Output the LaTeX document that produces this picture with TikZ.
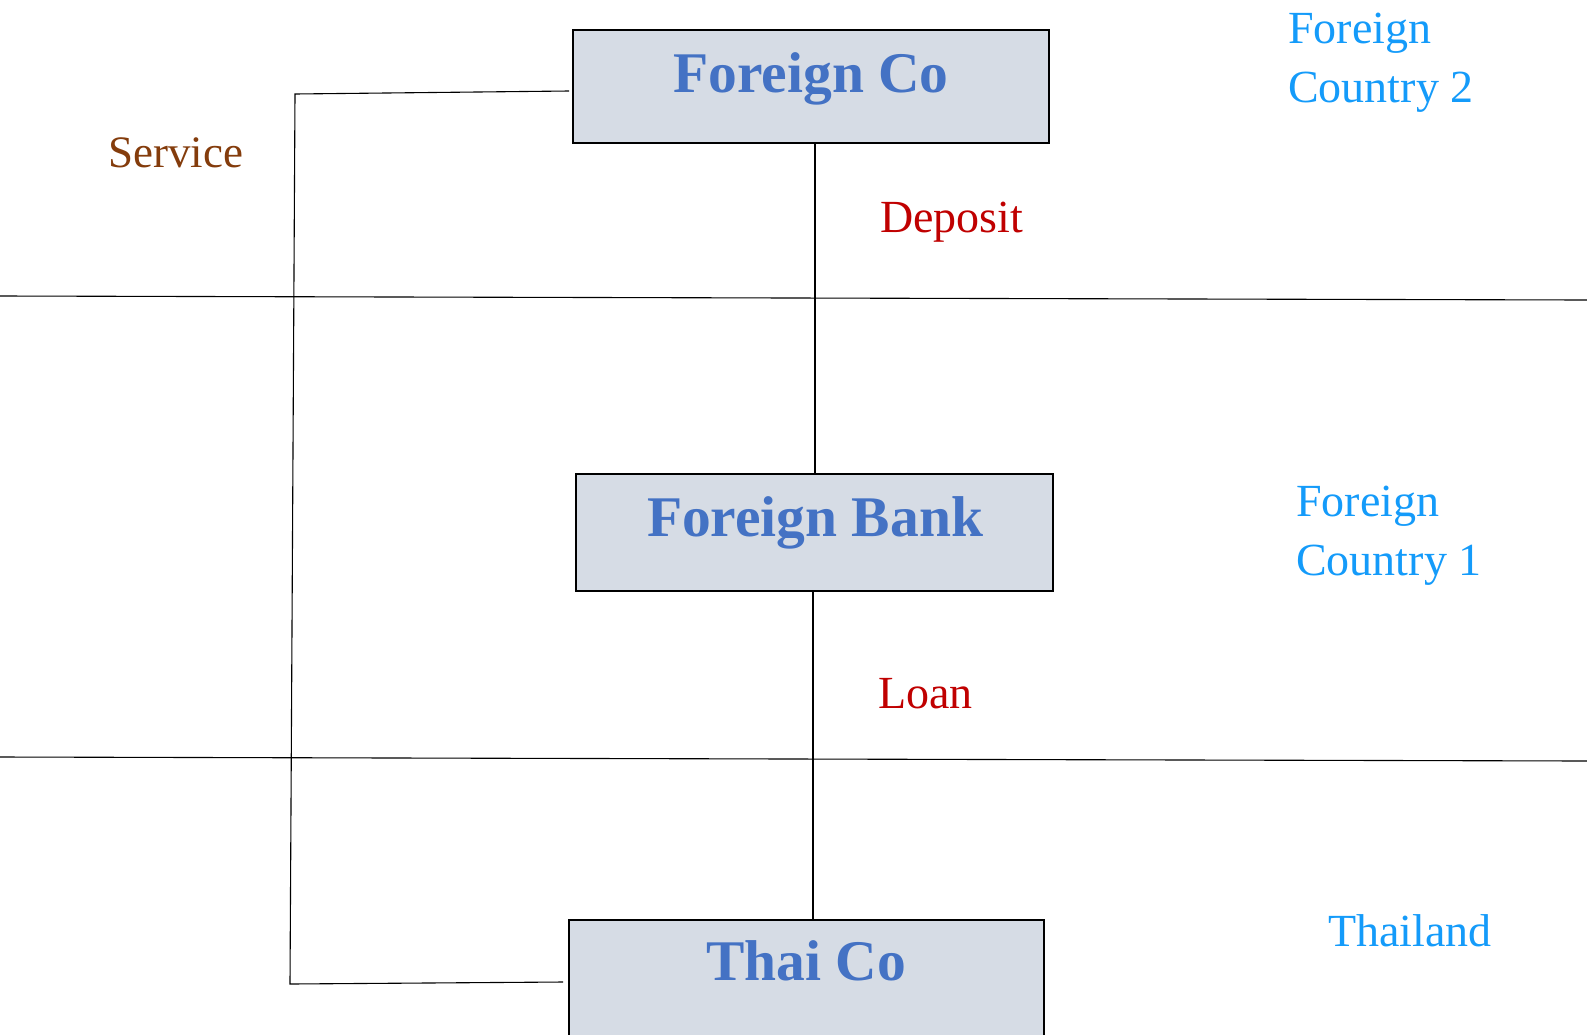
\documentclass[tikz,border=0pt]{standalone}
\usepackage{fontspec}
\setmainfont{Liberation Serif}
\definecolor{boxfill}{HTML}{D6DCE5}
\definecolor{boxtext}{HTML}{4472C4}
\definecolor{regionblue}{RGB}{20,155,250}
\definecolor{flowred}{HTML}{C00000}
\definecolor{servicebrown}{HTML}{843C0C}
\tikzset{
  entity/.style={draw=black, line width=2pt, fill=boxfill, rectangle, inner sep=0pt},
  entitylabel/.style={text=boxtext, font=\fontsize{57.5}{60}\selectfont\bfseries, anchor=base, inner sep=0pt},
  region/.style={text=regionblue, font=\fontsize{46}{59}\selectfont, anchor=base west, align=left, inner sep=0pt},
  flowlabel/.style={text=flowred, font=\fontsize{46}{59}\selectfont, anchor=base west, inner sep=0pt},
  servicelabel/.style={text=servicebrown, font=\fontsize{45}{59}\selectfont, anchor=base west, inner sep=0pt},
  link/.style={line width=2pt, black},
  border/.style={line width=1.1pt, black},
  bracket/.style={line width=1.1pt, black},
}
\begin{document}
\begin{tikzpicture}[x=1pt, y=-1pt]
  \useasboundingbox (0,0) rectangle (1587,1034);
  \fill[white] (0,0) rectangle (1587,1034);

  % country borders
  \coordinate (b1l) at (0,296);
  \coordinate (b1r) at (1587,300);
  \coordinate (b2l) at (0,757);
  \coordinate (b2r) at (1587,761);
  \draw[border] (b1l) -- (b1r);
  \draw[border] (b2l) -- (b2r);

  % entities
  \node[entity, minimum width=476pt, minimum height=113pt] (fco) at (811,86.5) {};
  \node[entity, minimum width=477pt, minimum height=117pt] (fbank) at (814.5,532.5) {};
  \node[entity, minimum width=475pt, minimum height=124pt] (thai) at (806.5,982) {};

  \node[entitylabel] (fcot) at (811,92) {Foreign Co};
  \node[entitylabel] (fbankt) at (815,536) {Foreign Bank};
  \node[entitylabel] (thait) at (806,980) {Thai Co};

  % deposit and loan connectors
  \draw[link] (fbank.north |- fco.south) -- (fbank.north);
  \draw[link] ([xshift=-1.5pt]fbank.south) -- ([xshift=-1.5pt]fbank.south |- thai.north);

  % service bracket
  \coordinate (st) at (295,94);
  \coordinate (sb) at (290,984);
  \draw[bracket] ([shift={(-3pt,-4.5pt)}]fco.west) -- (st) -- (sb) -- ([xshift=-5pt]thai.west);

  % labels (two-line labels are anchored at the baseline of their last line)
  \node[servicelabel] (service) at (108,167) {Service};
  \node[flowlabel] (deposit) at (880,232) {Deposit};
  \node[flowlabel] (loan) at (878,708) {Loan};

  \node[region] (fc2) at (1288,102) {Foreign\\Country 2};
  \node[region] (fc1) at (1296,575) {Foreign\\Country 1};
  \node[region] (th) at (1328,946) {Thailand};
\end{tikzpicture}
\end{document}
